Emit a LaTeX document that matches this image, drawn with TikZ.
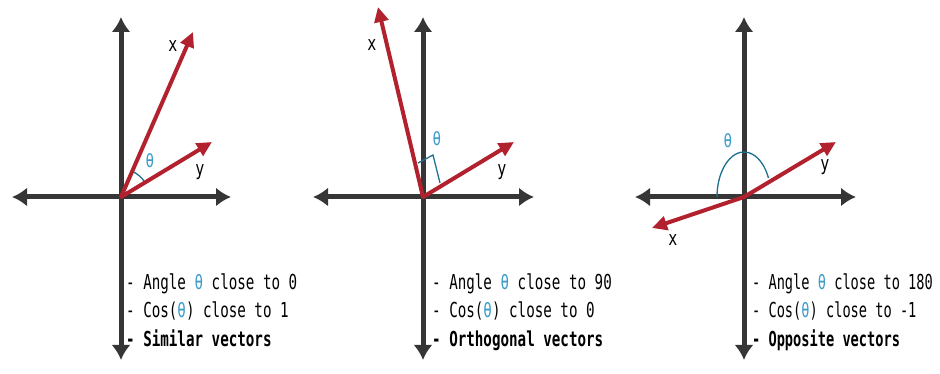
\documentclass[tikz,border=0pt]{standalone}
\usepackage{xcolor}
\usepackage{fontspec}
\setmonofont{DejaVu Sans Mono}
\usepackage{tikz}
\usetikzlibrary{arrows.meta,positioning}
\definecolor{axisgray}{HTML}{363636}
\definecolor{vecred}{HTML}{B2212E}
\definecolor{arcblue}{HTML}{1D6F8E}
\definecolor{thetablue}{HTML}{3C9DC9}
\newcommand{\thetab}{\textcolor{thetablue}{θ}}
\tikzset{
  axisline/.style={{Latex[length=15pt,width=19pt]}-{Latex[length=15pt,width=19pt]}, line width=5pt, draw=axisgray},
  vecarrow/.style={-{Triangle[length=15pt,width=14pt]}, line width=4pt, draw=vecred, shorten <=-1pt},
  veclabel/.style={font=\ttfamily\fontsize{20}{24}\selectfont, xscale=0.75, inner sep=0pt},
  thetalabel/.style={font=\ttfamily\fontsize{19}{24}\selectfont, xscale=0.75, inner sep=0pt, text=thetablue},
  anglemark/.style={draw=arcblue, line width=1.3pt},
  notetext/.style={font=\ttfamily\fontsize{20.6}{28}\selectfont, xscale=0.69, inner sep=0pt, anchor=base west},
  notebold/.style={notetext, font=\ttfamily\bfseries\fontsize{20.6}{28}\selectfont}
}

\begin{document}
\begin{tikzpicture}[x=1pt, y=1pt]
  \useasboundingbox (0,0) rectangle (940,374);

  % similar vectors
  \coordinate (o1) at (121,177);
  \coordinate (top1) at (121,357);
  \coordinate (bot1) at (121,14);
  \coordinate (left1) at (12,177);
  \coordinate (right1) at (231,177);
  \coordinate (xtip1) at (193,342);
  \coordinate (ytip1) at (212,232);
  \draw[axisline] (bot1) -- (top1);
  \draw[axisline] (left1) -- (right1);
  \draw[anglemark] ([shift={(31:28)}]o1) arc[start angle=31, end angle=66, radius=28];
  \draw[vecarrow] (o1) -- (xtip1);
  \draw[vecarrow] (o1) -- (ytip1);
  \node[veclabel] (xlab1) at (173,328) {x};
  \node[veclabel] (ylab1) at (200,202) {y};
  \node[thetalabel] (th1) at (150,213) {θ};
  \node[notetext] (angle1) at (126,84) {- Angle \thetab{} close to 0};
  \node[notetext] (cos1) at (126,56) {- Cos(\thetab) close to 1};
  \node[notebold] (kind1) at (126,27) {- Similar vectors};

  % orthogonal vectors
  \coordinate (o2) at (423,177);
  \coordinate (top2) at (423,357);
  \coordinate (bot2) at (423,14);
  \coordinate (left2) at (313,177);
  \coordinate (right2) at (534,177);
  \coordinate (xtip2) at (378,367);
  \coordinate (ytip2) at (514,232);
  \draw[axisline] (bot2) -- (top2);
  \draw[axisline] (left2) -- (right2);
  \draw[anglemark] (418,211) -- (433,219) -- (440,191);
  \draw[vecarrow] (o2) -- (xtip2);
  \draw[vecarrow] (o2) -- (ytip2);
  \node[veclabel] (xlab2) at (372,329) {x};
  \node[veclabel] (ylab2) at (502,202) {y};
  \node[thetalabel] (th2) at (437,235) {θ};
  \node[notetext] (angle2) at (432,84) {- Angle \thetab{} close to 90};
  \node[notetext] (cos2) at (432,56) {- Cos(\thetab) close to 0};
  \node[notebold] (kind2) at (432,27) {- Orthogonal vectors};

  % opposite vectors
  \coordinate (o3) at (744,177);
  \coordinate (top3) at (744,357);
  \coordinate (bot3) at (744,14);
  \coordinate (left3) at (635,177);
  \coordinate (right3) at (856,177);
  \coordinate (xtip3) at (652,146);
  \coordinate (ytip3) at (836,232);
  \draw[axisline] (bot3) -- (top3);
  \draw[axisline] (left3) -- (right3);
  \draw[anglemark] ([shift={(25:27 and 45)}]o3) arc[start angle=25, end angle=180, x radius=27, y radius=45];
  \draw[vecarrow] (o3) -- (xtip3);
  \draw[vecarrow] (o3) -- (ytip3);
  \node[veclabel] (xlab3) at (673,134) {x};
  \node[veclabel] (ylab3) at (825,207) {y};
  \node[thetalabel] (th3) at (728,233) {θ};
  \node[notetext, xscale=0.96] (angle3) at (752,84) {- Angle \thetab{} close to 180};
  \node[notetext, xscale=0.96] (cos3) at (752,56) {- Cos(\thetab) close to -1};
  \node[notebold, xscale=0.96] (kind3) at (752,27) {- Opposite vectors};
\end{tikzpicture}
\end{document}
